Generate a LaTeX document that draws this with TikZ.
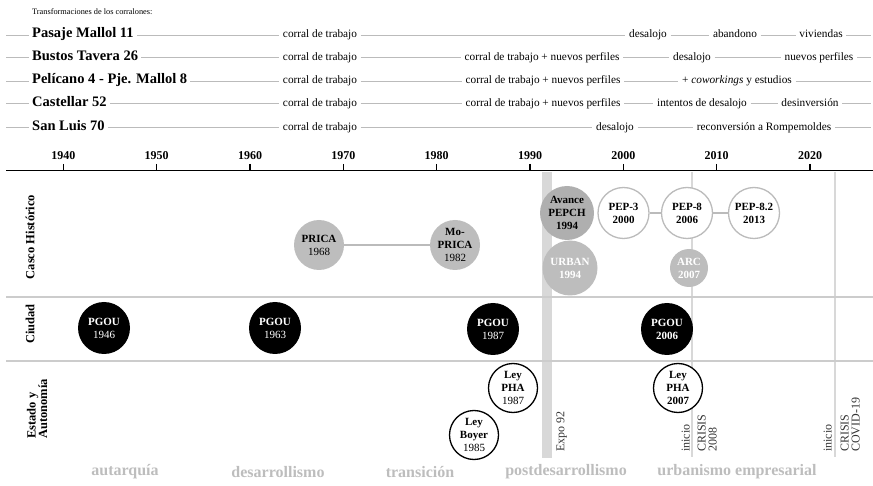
\documentclass[tikz,border=0pt]{standalone}
\usepackage{fontspec}
\setmainfont{Liberation Serif}
\definecolor{lineg}{HTML}{BBBBBB}
\definecolor{sepg}{HTML}{CCCCCC}
\definecolor{barg}{HTML}{D8D8D8}
\definecolor{fillg}{HTML}{BDBDBD}
\definecolor{filldk}{HTML}{AFAFAF}
\definecolor{erag}{HTML}{BDBDBD}
\definecolor{txtg}{HTML}{333333}
\begin{document}
\begin{tikzpicture}[x=1pt,y=-1pt,
  every node/.style={inner sep=0pt},
  conn/.style={draw=lineg,line width=0.8pt},
  rowname/.style={anchor=west,font=\bfseries\fontsize{14.5}{16}\selectfont,text height=9.5pt,text depth=4pt,inner xsep=3pt},
  stage/.style={font=\fontsize{11.3}{13}\selectfont,text height=8.3pt,text depth=3pt,inner xsep=3.5pt},
  yearlab/.style={font=\bfseries\fontsize{12}{13}\selectfont},
  bubble/.style={circle,align=center,font=\bfseries\fontsize{11}{13}\selectfont},
  cgray/.style={bubble,fill=fillg,minimum size=50pt},
  cdark/.style={bubble,fill=filldk,minimum size=54pt},
  cgraywhite/.style={bubble,fill=fillg,text=white},
  cpep/.style={bubble,fill=white,draw=lineg,line width=1.3pt,minimum size=51pt},
  cpgou/.style={bubble,fill=black,text=white,minimum size=52pt},
  cley/.style={bubble,fill=white,draw=black,line width=1.3pt,minimum size=49pt},
  link/.style={draw=lineg,line width=1.2pt},
  vtext/.style={rotate=90,anchor=south west,align=left,text=txtg,font=\fontsize{12}{11}\selectfont},
  sidelab/.style={rotate=90,align=left,font=\bfseries\fontsize{12.5}{11.5}\selectfont},
  era/.style={font=\bfseries\fontsize{16}{18}\selectfont,text=erag}
]
\useasboundingbox (0,0) rectangle (873,486);

% ---------- corralones ----------
\node[anchor=west,font=\fontsize{8.3}{9}\selectfont] (title) at (32,12) {Transformaciones de los corralones:};

% row 1
\coordinate (a0) at (6,35);
\node[rowname] (a1) at (29,35) {Pasaje Mallol 11};
\node[stage] (a2) at (320,35) {corral de trabajo};
\node[stage] (a3) at (648,35) {desalojo};
\node[stage] (a4) at (735,35) {abandono};
\node[stage] (a5) at (821,35) {viviendas};
\coordinate (a6) at (871,35);
\draw[conn] (a0) -- (a1) (a1) -- (a2) (a2) -- (a3) (a3) -- (a4) (a4) -- (a5) (a5) -- (a6);

% row 2
\coordinate (b0) at (6,57.5);
\node[rowname] (b1) at (29,57.5) {Bustos Tavera 26};
\node[stage] (b2) at (320,57.5) {corral de trabajo};
\node[stage] (b3) at (542,57.5) {corral de trabajo + nuevos perfiles};
\node[stage] (b4) at (692,57.5) {desalojo};
\node[stage] (b5) at (819,57.5) {nuevos perfiles};
\coordinate (b6) at (871,57.5);
\draw[conn] (b0) -- (b1) (b1) -- (b2) (b2) -- (b3) (b3) -- (b4) (b4) -- (b5) (b5) -- (b6);

% row 3
\coordinate (c0) at (6,81);
\node[rowname] (c1) at (29,81) {Pelícano 4 - Pje. Mallol 8};
\node[stage] (c2) at (320,81) {corral de trabajo};
\node[stage] (c3) at (543,81) {corral de trabajo + nuevos perfiles};
\node[stage] (c4) at (737,81) {+ \textit{coworkings} y estudios};
\coordinate (c5) at (871,81);
\draw[conn] (c0) -- (c1) (c1) -- (c2) (c2) -- (c3) (c3) -- (c4) (c4) -- (c5);

% row 4
\coordinate (d0) at (6,103.5);
\node[rowname] (d1) at (29,103.5) {Castellar 52};
\node[stage] (d2) at (320,103.5) {corral de trabajo};
\node[stage] (d3) at (543,103.5) {corral de trabajo + nuevos perfiles};
\node[stage] (d4) at (702,103.5) {intentos de desalojo};
\node[stage] (d5) at (810,103.5) {desinversión};
\coordinate (d6) at (871,103.5);
\draw[conn] (d0) -- (d1) (d1) -- (d2) (d2) -- (d3) (d3) -- (d4) (d4) -- (d5) (d5) -- (d6);

% row 5
\coordinate (e0) at (6,127.5);
\node[rowname] (e1) at (29,127.5) {San Luis 70};
\node[stage] (e2) at (320,127.5) {corral de trabajo};
\node[stage] (e3) at (615,127.5) {desalojo};
\node[stage] (e4) at (764,127.5) {reconversión a Rompemoldes};
\coordinate (e5) at (871,127.5);
\draw[conn] (e0) -- (e1) (e1) -- (e2) (e2) -- (e3) (e3) -- (e4) (e4) -- (e5);

% ---------- background bands ----------
\fill[barg] (542,172) rectangle (552,458);
\coordinate (cr1t) at (692,172);
\coordinate (cr1b) at (692,457);
\coordinate (cr2t) at (835,172);
\coordinate (cr2b) at (835,457);
\draw[barg,line width=2.4pt] (cr1t) -- (cr1b);
\draw[barg,line width=2.4pt] (cr2t) -- (cr2b);

\coordinate (s1l) at (6,297);
\coordinate (s1r) at (873,297);
\coordinate (s2l) at (6,361);
\coordinate (s2r) at (873,361);
\draw[sepg,line width=1.4pt] (s1l) -- (s1r);
\draw[sepg,line width=1.4pt] (s2l) -- (s2r);

% ---------- axis ----------
\coordinate (axl) at (6,170.5);
\coordinate (axr) at (873,170.5);
\draw[line width=1.8pt] (axl) -- (axr);
\foreach \yr/\x in {1940/63.3,1950/156.7,1960/250,1970/343.3,1980/436.7,1990/530,2000/623.3,2010/716.7,2020/810} {
  \draw[line width=1.4pt] (\x,164) -- (\x,171);
  \node[yearlab] (y\yr) at (\x,156) {\yr};
}

% ---------- side labels ----------
\node[sidelab] (lab1) at (30,237) {Casco Histórico};
\node[sidelab] (lab2) at (30,324) {Ciudad};
\node[sidelab] (lab3) at (37,409) {Estado y\\Autonomía};

% ---------- Casco Histórico ----------
\node[cgray] (prica) at (319,245) {PRICA\\\mdseries 1968};
\node[cgray] (moprica) at (455,245) {Mo-\\PRICA\\\mdseries 1982};
\draw[link] (prica) -- (moprica);
\node[cdark] (avance) at (567,213) {Avance\\PEPCH\\1994};
\node[cgraywhite,minimum size=55pt] (urban) at (570,268) {URBAN\\1994};
\node[cpep] (pep3) at (623.5,213) {PEP-3\\2000};
\node[cpep] (pep8) at (687,213) {PEP-8\\2006};
\node[cpep] (pep82) at (754,213) {PEP-8.2\\2013};
\draw[link] (pep3) -- (pep8);
\draw[link] (pep8) -- (pep82);
\node[cgraywhite,minimum size=38pt] (arc) at (689,268) {ARC\\2007};

% ---------- Ciudad ----------
\node[cpgou] (p46) at (104,328) {PGOU\\\mdseries 1946};
\node[cpgou] (p63) at (275,328) {PGOU\\\mdseries 1963};
\node[cpgou] (p87) at (493,329) {PGOU\\\mdseries 1987};
\node[cpgou] (p06) at (667,329) {PGOU\\2006};

% ---------- Estado y Autonomia ----------
\node[cley] (pha87) at (513,388) {Ley\\PHA\\\mdseries 1987};
\node[cley] (boyer) at (474,435) {Ley\\Boyer\\\mdseries 1985};
\node[cley] (pha07) at (678,388) {Ley\\PHA\\2007};

% ---------- vertical event labels ----------
\node[vtext] (expo) at (567,452) {Expo 92};
\node[vtext] (ini1) at (690,452) {inicio};
\node[vtext] (cri1) at (717,452) {CRISIS\\2008};
\node[vtext] (ini2) at (832,452) {inicio};
\node[vtext] (cri2) at (860,452) {CRISIS\\COVID-19};

% ---------- eras ----------
\node[era] (e_aut) at (125,472) {autarquía};
\node[era] (e_des) at (278,472) {desarrollismo};
\node[era] (e_tra) at (420,472) {transición};
\node[era] (e_pos) at (566,472) {postdesarrollismo};
\node[era] (e_urb) at (737,472) {urbanismo empresarial};
\end{tikzpicture}
\end{document}
